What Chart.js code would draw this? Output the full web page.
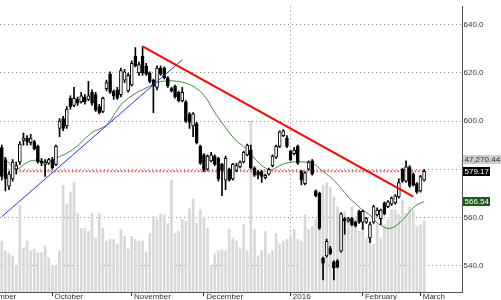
<!DOCTYPE html>
<html><head><meta charset="utf-8">
<script src="https://cdn.jsdelivr.net/npm/chart.js@4/dist/chart.umd.min.js"></script>
<style>
html,body{margin:0;padding:0;background:#fff;overflow:hidden}
#wrap{position:relative;width:501px;height:306px}
</style>
</head><body>
<div id="wrap"><canvas id="c"></canvas></div>
<script>
// ---- data ----
const openP  = [589,584,573,576,580,583,592,593,591,591.5,589.5,583.5,582,582.5,584,582,597,601,598,609.5,606.5,609,608,610,609,612,611,606,604,613.5,619.5,612.5,613,611,617,612.5,615,627,620,627,623,620,617,614,622,622,618,613.5,614.5,612,608.5,608,603,598,599,589.5,586,580,583.5,585.5,584.5,582,575.5,580,576,579.5,581,583,586,588,580.5,579,579,576.5,578,581.5,585,589.5,594,593,587.5,586.5,589.5,579,574,580,583.5,571,570,543,544,547,541.5,542,546,559.5,558.5,559.5,558,562.5,558,558,551.5,558,561,559.5,566,564.5,565.5,566,568.5,580,575,581,578,574,571,575.5];
const highP  = [590,585,579,584,583,591.5,595,594,594.5,592,590,584.5,584,584.5,585,590,601,602,606,610.5,614,610,612,611,616.5,613,612,607,610,617,620.5,613,614,622,621.5,620,625,630.5,624.5,631,624,620.5,617.5,623,623,622.5,618.5,614,615,612.5,614,608.5,603.5,603.5,599.5,590,586.5,586,587,586,585,582.5,585.5,580.5,582.5,582.5,583.5,587.5,590.5,590,581,579.5,579.5,578,580.5,586,590,596,596.5,594,588,589,590,579.5,579,583.5,584,571.5,570.5,543.5,551,548,542,542.5,562,560,560,560,558.5,563,563,560,558,565,564,563.5,566.5,567,568.5,569.5,576,580.5,583.5,581.5,578.5,574.5,577.5,580];
const lowP   = [575.5,571,571.5,575,578,582,590,590,590,588,582.5,581.5,577,582,580,581.5,593.5,596,597,605,606,606.5,607.5,607,608.5,606.5,604,603,603.5,612.5,611.5,609,609,610,616,612,614.5,622.5,619,619,619,616,603.5,613,619,617.5,614,612,609.5,608,608,599.5,597,593.5,590.5,582,579,579.5,583,581.5,575,569,571.5,575,575.5,579,580.5,582.5,585.5,580,577,576,574.5,576,577.5,581,584.5,589,593.5,589,583.5,586,582,573.5,573.5,579.5,577.5,568.5,555,534,543.5,544.5,534,539,545.5,553,558,556.5,556,557.5,555,557.5,549.5,557.5,560.5,557,561,564,565,565.5,568,574.5,574.5,572.5,573,570,570.5,575];
const closeP = [577,576,578,583,581.5,590.5,593,591.5,593,588.5,583,582.5,583,584,580.5,589.5,600,597,605,606,609.5,607.5,610.5,608,610.5,607.5,604.5,603.5,609.5,616,612,610.5,609.5,621,620.5,619,624,623,623.5,620,619.5,616.5,614.5,622,619.5,618,614.5,612.5,610,608.5,612,600,599.5,603,591,582.5,579.8,585.5,586,582,576,579.5,584.5,575.5,582,581.5,583,587,590,580.5,577.5,577.5,577,577.5,580,585.5,589.5,595.5,596,589.5,584,588,582.5,575.5,578.5,583,578,569,555.5,541,550,545,539,539.5,561.5,558.5,559.5,557,556.5,558,562.5,559.5,557,564.5,563,563,561.5,566.5,568,569,574.5,575,581,573,573.5,570.5,577,579.17];
// volume in thousands
const volumeK = [33.8,27.3,25.4,24.1,17.6,57.9,29.3,33.8,27.3,28.6,26.0,26.0,30.6,22.8,17.6,17.6,27.3,70.9,58.6,66.4,72.9,52.1,42.3,42.3,40.3,52.1,35.8,52.1,42.3,33.8,35.1,35.1,31.9,41.6,37.1,28.6,37.1,35.1,33.8,33.8,26.0,39.0,50.1,48.2,52.1,51.4,45.5,74.2,39.0,40.3,48.2,46.9,55.3,61.8,45.5,54.7,48.8,42.3,17.6,25.4,27.3,28.0,27.3,41.6,35.8,33.8,29.3,44.9,27.3,113.9,41.6,24.1,27.3,40.3,25.4,27.3,39.0,31.9,33.8,35.1,37.1,41.6,35.1,33.8,51.4,41.6,43.6,48.2,59.9,70.9,72.9,69.6,63.1,56.6,50.1,53.4,46.9,56.6,50.1,40.3,43.6,35.8,43.6,31.9,44.9,35.8,44.9,48.2,54.7,54.7,51.4,61.2,52.1,56.6,54.7,43.6,44.9,47.27044];
// moving average line as seen on the picture
const movingAvg = [585.3,584.1,582.5,580.9,579.7,580.6,581.9,582.8,583.5,583.7,583.8,583.1,583.3,583.4,583.9,584.5,585.3,585.9,586.7,587.6,588.6,589.7,591.2,592.7,594.0,595.3,596.1,596.7,597.4,598.3,600.0,602.4,604.7,606.9,608.2,609.5,610.5,611.5,612.4,613.0,613.8,614.5,615.2,615.8,616.4,616.6,616.7,616.8,616.6,616.5,616.2,615.8,615.2,614.5,613.4,612.4,610.7,608.7,606.1,603.6,601.4,599.3,597.3,595.2,593.4,591.8,590.6,589.4,588.1,586.2,584.6,583.0,581.6,580.6,579.8,579.8,580.6,581.5,582.2,582.6,582.8,583.1,583.1,583.1,583.0,582.9,582.7,581.6,580.3,579.1,578.0,576.8,575.4,573.8,572.1,570.3,568.4,567.0,565.7,564.3,563.0,562.0,561.0,559.3,557.7,556.7,555.8,555.4,555.6,556.3,557.5,558.9,560.5,562.4,564.0,565.2,566.0,566.54];
const monthStarts = [14,36,56,80,100,116];
const monthNames  = ['October','November','December','2016','February','March'];
const leadingMonth = 'September';
const yTicks = [540,560,580,600,620,640];
const trendRed  = [{i:39, v:631}, {i:114, v:568.6}];
const trendBlue = [{i:0, v:560.3}, {i:50, v:625.5}];
const slotCount = 128;   // visible trading-day slots (incl. empty future space)

const labels = Array.from({length: slotCount}, (_, i) => i);
const last = closeP.length - 1;
const lastClose = closeP[last];
const lastMA = movingAvg[last];
const lastVol = volumeK[last];

const FONT = 'Liberation Sans, Arial, sans-serif';
const fmt2 = v => v.toLocaleString('en-US', {minimumFractionDigits: 2, maximumFractionDigits: 2});

const boxesPlugin = {
  id: 'boxes',
  afterDraw(chart) {
    const {ctx, chartArea, scales} = chart;
    const y = scales.y, x = scales.x;
    ctx.save();
    ctx.font = '8px ' + FONT;
    ctx.textBaseline = 'middle';
    // leading month label (cut at left edge)
    ctx.fillStyle = '#333';
    ctx.textAlign = 'right';
    ctx.fillText(leadingMonth, x.getPixelForValue(4), 296.5);
    ctx.textAlign = 'left';
    const left = chartArea.right + 1;
    function box(text, cy, bg, fg, w) {
      ctx.fillStyle = bg;
      ctx.fillRect(left, Math.round(cy - 4.5), w, 9);
      ctx.fillStyle = fg;
      ctx.fillText(text, left + 1.5, cy + 0.5);
    }
    const pc = y.getPixelForValue(lastClose);
    box(fmt2(lastVol * 1000), pc - 11.5, '#cfcfcf', '#333', 39);
    box(lastClose.toFixed(2), pc, '#000', '#fff', 27);
    box(lastMA.toFixed(2), y.getPixelForValue(lastMA), '#1d5a1d', '#fff', 27);
    ctx.restore();
  }
};

new Chart(document.getElementById('c'), {
  data: {
    labels,
    datasets: [
      { type: 'line', label: 'trend down', data: trendRed.map(p => ({x: p.i, y: p.v})),
        borderColor: '#ff0000', borderWidth: 2, pointRadius: 0, order: 0 },
      { type: 'line', label: 'trend up', data: trendBlue.map(p => ({x: p.i, y: p.v})),
        borderColor: '#2f2fff', borderWidth: 1, pointRadius: 0, order: 0 },
      { type: 'bar', label: 'body', data: openP.map((o, i) => [o, closeP[i]]),
        backgroundColor: closeP.map((c, i) => c >= openP[i] ? '#ffffff' : '#000000'),
        borderColor: '#000', borderWidth: 1, borderSkipped: false,
        barThickness: 3, grouped: false, order: 1 },
      { type: 'bar', label: 'wick', data: lowP.map((l, i) => [l, highP[i]]),
        backgroundColor: '#000', barThickness: 1, grouped: false, order: 2 },
      { type: 'line', label: 'MA', data: movingAvg,
        borderColor: '#3b8a3b', borderWidth: 1, pointRadius: 0, tension: 0.3, order: 3 },
      { type: 'line', label: 'last', data: [{x: 0, y: lastClose}, {x: last, y: lastClose}],
        borderColor: 'rgba(255,40,40,0.85)', borderWidth: 2, borderDash: [1.5, 2], pointRadius: 0, order: 4 },
      { type: 'bar', label: 'volume', data: volumeK, yAxisID: 'yVol',
        backgroundColor: '#d8d8d8', barThickness: 2, grouped: false, order: 10 }
    ]
  },
  options: {
    responsive: true, maintainAspectRatio: false, animation: false, events: [],
    layout: { padding: 0 },
    plugins: { legend: { display: false }, tooltip: { enabled: false } },
    scales: {
      x: {
        type: 'category', offset: true,
        grid: {
          offset: false, drawOnChartArea: true, tickLength: 4, tickBorderDash: [],
          color: c => c.index === monthStarts[3] ? '#8a8a8a' : 'rgba(0,0,0,0)',
          tickColor: c => monthStarts.includes(c.index) ? '#333' : 'rgba(0,0,0,0)'
        },
        border: { color: '#555', width: 1, dash: [1, 3] },
        ticks: {
          autoSkip: false, maxRotation: 0, minRotation: 0, align: 'start', padding: -4,
          color: '#333', font: { size: 8, family: FONT },
          callback: (v, i) => { const k = monthStarts.indexOf(i); return k >= 0 ? ' ' + monthNames[k] : ''; }
        },
        afterFit: s => { s.height = 14; }
      },
      y: {
        position: 'right', min: 529, max: 647.7,
        afterBuildTicks: s => { s.ticks = yTicks.map(v => ({value: v})); },
        grid: { color: '#8a8a8a', drawTicks: false },
        border: { color: '#555', width: 1, dash: [1, 3] },
        ticks: { padding: 1.5, color: '#333', font: { size: 8, family: FONT },
          callback: v => v === 580 ? '' : v.toFixed(1) },
        afterFit: s => { s.width = 39; }
      },
      yVol: { display: false, min: 0, max: 190 }
    }
  },
  plugins: [boxesPlugin]
});
</script>
</body></html>
